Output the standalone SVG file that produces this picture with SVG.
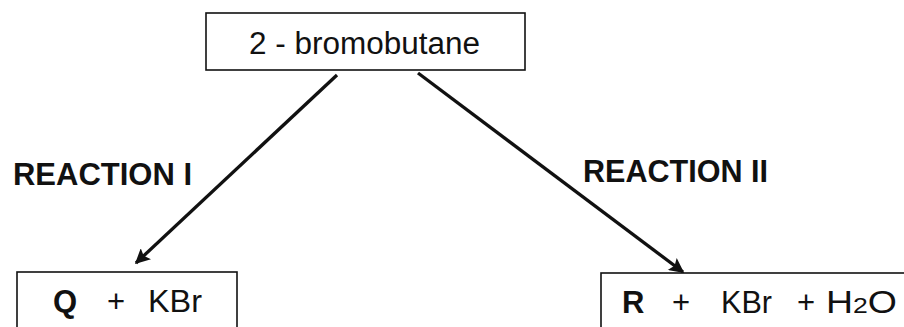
<svg xmlns="http://www.w3.org/2000/svg" width="904" height="327" viewBox="0 0 904 327">
<style>
.box{fill:#fff;stroke:#111;stroke-width:1.6}
.t{font-family:"Liberation Sans",Arial,sans-serif;fill:#111;font-size:31px}
.b{font-weight:bold}
.lbl{font-family:"Liberation Sans",Arial,sans-serif;font-weight:bold;fill:#111;font-size:31px}
.conn{stroke:#111;stroke-width:3.3;fill:none;marker-end:url(#ah)}
</style>
<defs>
<marker id="ah" viewBox="0 0 10 10" refX="9" refY="5" markerUnits="userSpaceOnUse" markerWidth="22" markerHeight="15" orient="auto">
<path d="M0,0 L10,5 L0,10 L2,5 Z" fill="#111"/>
</marker>
</defs>
<rect width="904" height="327" fill="#fff"/>
<g id="connectors">
<line class="conn" x1="337" y1="75" x2="136" y2="263"/>
<line class="conn" x1="418" y1="73" x2="683" y2="272"/>
</g>
<g id="start">
<rect class="box" x="206" y="13" width="319" height="57"/>
<text class="t" x="249" y="54" font-size="32" textLength="231" lengthAdjust="spacingAndGlyphs">2 - bromobutane</text>
</g>
<g id="label1">
<text class="lbl" x="13" y="185" textLength="179" lengthAdjust="spacingAndGlyphs">REACTION I</text>
</g>
<g id="label2">
<text class="lbl" x="583" y="182" textLength="185" lengthAdjust="spacingAndGlyphs">REACTION II</text>
</g>
<g id="product1">
<rect class="box" x="17" y="272" width="220" height="70"/>
<text class="t b" x="53" y="312">Q</text>
<text class="t" x="107" y="312">+</text>
<text class="t" x="148" y="312" textLength="54" lengthAdjust="spacingAndGlyphs">KBr</text>
</g>
<g id="product2">
<rect class="box" x="601" y="273" width="320" height="70"/>
<text class="t b" x="622" y="313">R</text>
<text class="t" x="672" y="313">+</text>
<text class="t" x="721" y="313" textLength="51" lengthAdjust="spacingAndGlyphs">KBr</text>
<text class="t" x="797" y="313">+</text>
<text class="t" x="826" y="313" textLength="71" lengthAdjust="spacingAndGlyphs">H<tspan font-size="22">2</tspan>O</text>
</g>
</svg>
